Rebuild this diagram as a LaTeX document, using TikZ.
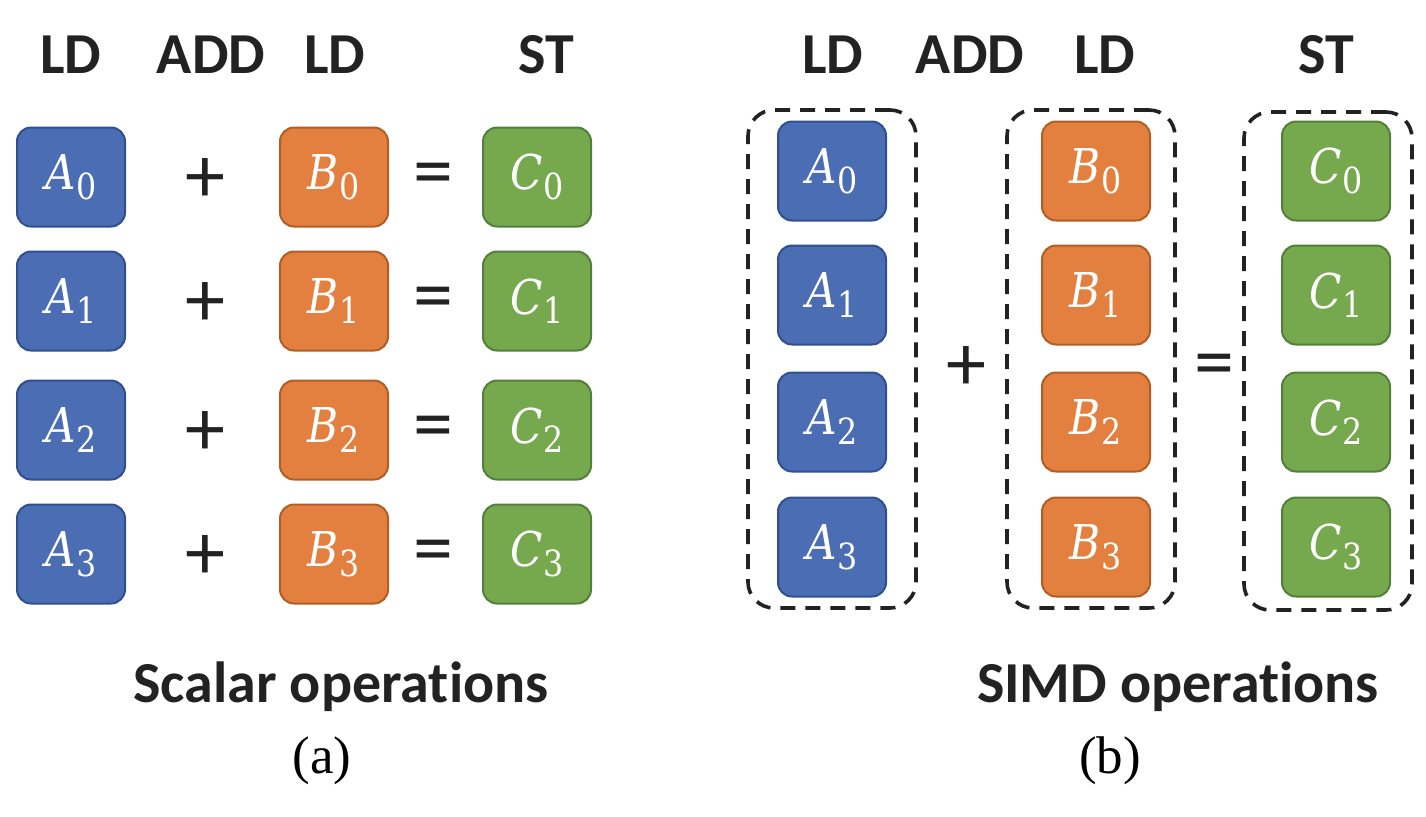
\RequirePackage{fix-cm}
\documentclass[tikz,border=0pt]{standalone}
\usepackage{fontspec}
\setmainfont{Carlito}[Ligatures=NoCommon]
\newfontfamily\capfont{Liberation Serif}
\newfontfamily\mfont{DejaVu Serif}[FakeStretch=0.88]
\usetikzlibrary{positioning}
\definecolor{bfill}{HTML}{4A6DB3}
\definecolor{bline}{HTML}{2F4F8F}
\definecolor{ofill}{HTML}{E3803F}
\definecolor{oline}{HTML}{B05E26}
\definecolor{gfill}{HTML}{76A84E}
\definecolor{gline}{HTML}{52803A}
\definecolor{ink}{HTML}{222222}
\newcommand{\mv}[2]{{\mfont\itshape #1}\kern0.5pt\raisebox{-0.2em}{\mfont\fontsize{18}{20}\selectfont #2}}
\tikzset{
  cell/.style={rounded corners=7pt, line width=1pt, minimum width=54pt, minimum height=49.5pt, inner sep=0pt, text=white, font=\fontsize{24}{28}\selectfont},
  acell/.style={cell, fill=bfill, draw=bline},
  bcell/.style={cell, fill=ofill, draw=oline},
  ccell/.style={cell, fill=gfill, draw=gline},
  head/.style={anchor=base, text=ink, font=\fontsize{29}{34}\selectfont\bfseries},
  opsym/.style={text=ink, font=\fontsize{40}{44}\selectfont\mdseries, inner sep=0pt},
  sub/.style={anchor=base, font=\capfont\fontsize{26.5}{30}\selectfont},
  group/.style={draw=ink, dashed, dash pattern=on 7.5pt off 5pt, line width=1.8pt, rounded corners=13pt, minimum width=84pt, minimum height=249pt, inner sep=0pt}
}
\begin{document}
\begin{tikzpicture}[x=0.5pt, y=-0.5pt]
\useasboundingbox (0,0) rectangle (1426,816);
% ---------- (a) scalar ----------
\node[head] (hA) at (71,73) {LD};
\node[head] (hB) at (211,73) {ADD};
\node[head] (hC) at (335,73) {LD};
\node[head] (hD) at (546,73) {ST};
\foreach \i/\y in {0/177,1/301,2/430,3/554}{
  \node[acell] (sA\i) at (71,\y) {\mv{A}{\i}};
  \node[opsym] (sP\i) at (205,\y+3) {+};
  \node[bcell] (sB\i) at (334,\y) {\mv{B}{\i}};
  \node[opsym] (sE\i) at (433,\y+3) {=};
  \node[ccell] (sC\i) at (537,\y) {\mv{C}{\i}};
}
\node[head] (capa) at (341,702) {Scalar operations};
\node[sub] (suba) at (322,773) {(a)};
% ---------- (b) SIMD ----------
\node[head] (hE) at (833,73) {LD};
\node[head] (hF) at (970,73) {ADD};
\node[head] (hG) at (1105,73) {LD};
\node[head] (hH) at (1326,73) {ST};
\node[group] (gA) at (832,359) {};
\node[group] (gB) at (1091,359) {};
\node[group] (gC) at (1328,361) {};
\foreach \i/\y in {0/171,1/295,2/422,3/547}{
  \node[acell] (vA\i) at (832,\y) {\mv{A}{\i}};
  \node[bcell] (vB\i) at (1096,\y) {\mv{B}{\i}};
  \node[ccell] (vC\i) at (1336,\y) {\mv{C}{\i}};
}
\node[opsym] (vP) at (966,368) {+};
\node[opsym] (vE) at (1214,371) {=};
\node[head] (capb) at (1178,702) {SIMD operations};
\node[sub] (subb) at (1110,773) {(b)};
\end{tikzpicture}
\end{document}
